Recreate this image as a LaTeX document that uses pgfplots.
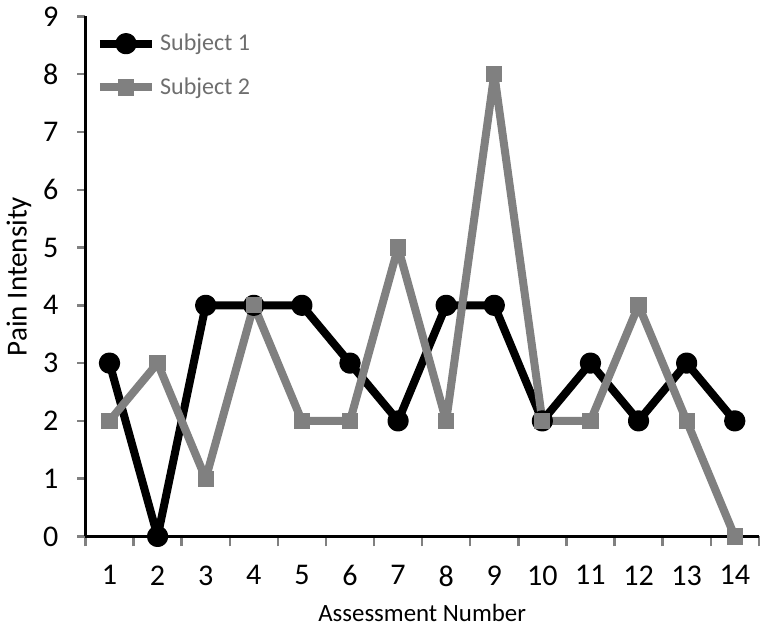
\documentclass[border=0pt]{standalone}
\usepackage{pgfplots}
\pgfplotsset{compat=1.18}
\usepackage{fontspec}
\setmainfont{Carlito}
\definecolor{sgray}{RGB}{128,128,128}
\definecolor{tgray}{RGB}{110,110,110}
\begin{document}
\begin{tikzpicture}
\begin{axis}[
  scale only axis,
  width=336pt, height=259.5pt,
  xmin=0.5, xmax=14.5, ymin=0, ymax=9,
  axis x line=bottom, axis y line=left,
  axis line style={-, line width=1.2pt},
  xtick={1,...,14},
  major x tick style={draw=none},
  minor xtick={0.5,1.5,...,14.5},
  minor x tick style={line width=1.2pt},
  minor tick length=5pt,
  ytick={0,...,9},
  major y tick style={line width=1.2pt},
  major tick length=4pt,
  tick align=outside,
  /pgf/number format/assume math mode=true,
  ticklabel style={font=\fontsize{15}{17}\selectfont},
  xticklabel style={yshift=-7pt},
  yticklabel style={xshift=-6pt},
  xlabel={Assessment Number},
  ylabel={Pain Intensity},
  xlabel style={font=\fontsize{12.4}{14}\selectfont, yshift=-2pt},
  ylabel style={font=\fontsize{14.5}{16}\selectfont, yshift=-1pt},
  legend style={at={(0.015,0.975)}, anchor=north west, draw=none, fill=none,
    font=\fontsize{12}{14}\selectfont, text=tgray, row sep=8pt,
    inner sep=0pt},
  legend cell align=left,
  legend image code/.code={
    \draw[#1] (0pt,0pt) -- (13pt,0pt);
    \draw[#1, mark repeat=1] plot coordinates {(13pt,0pt)};
    \draw[#1] (13pt,0pt) -- (26pt,0pt);
  },
]
\addplot[black, line width=4pt, line join=round, mark=*, mark size=3.3pt, mark options={solid}] coordinates {
(1,3) (2,0) (3,4) (4,4) (5,4) (6,3) (7,2) (8,4) (9,4) (10,2) (11,3) (12,2) (13,3) (14,2)};
\addlegendentry{Subject 1}
\addplot[sgray, line width=4pt, line join=round, mark=square*, mark size=3.8pt, mark options={solid, draw=sgray, fill=sgray, line width=0pt}] coordinates {
(1,2) (2,3) (3,1) (4,4) (5,2) (6,2) (7,5) (8,2) (9,8) (10,2) (11,2) (12,4) (13,2) (14,0)};
\addlegendentry{Subject 2}
\end{axis}
\end{tikzpicture}
\end{document}
